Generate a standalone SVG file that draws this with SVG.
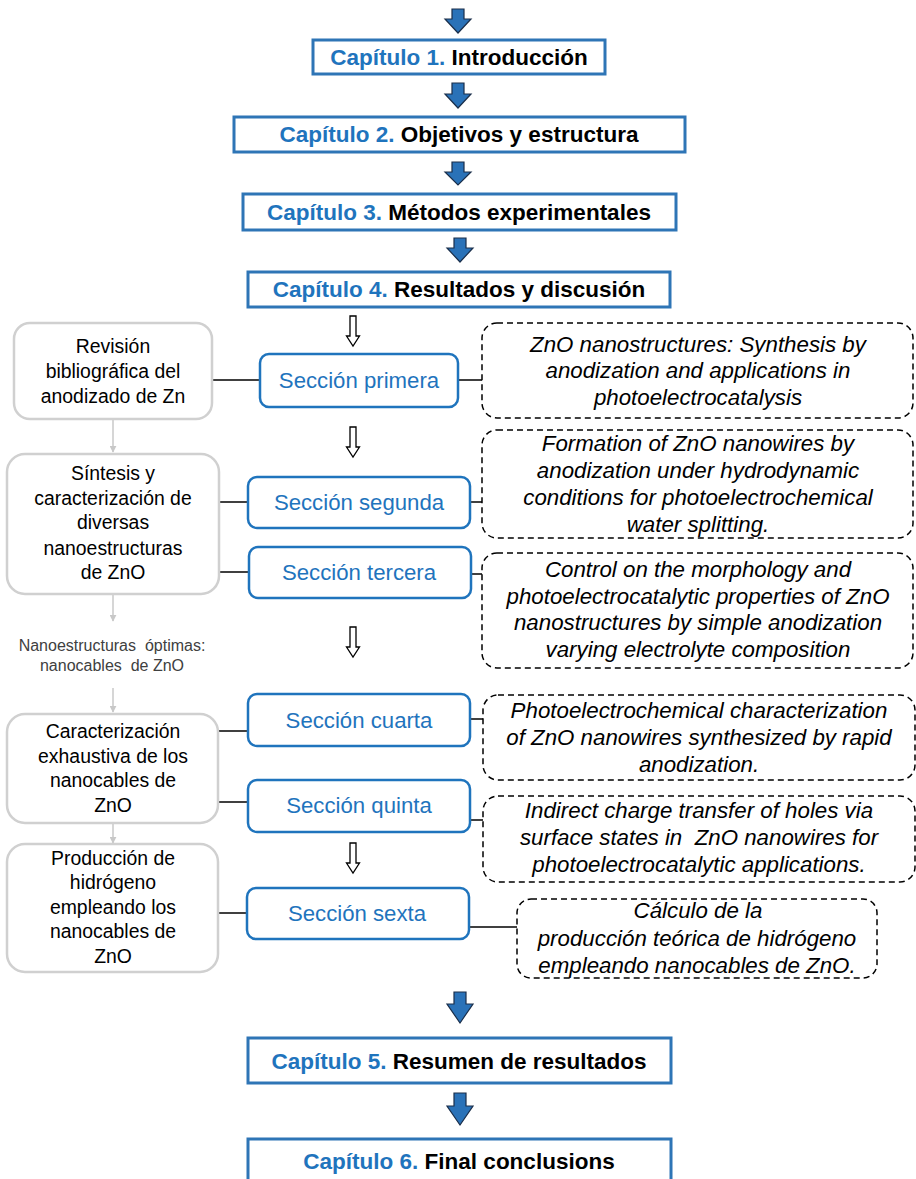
<svg xmlns="http://www.w3.org/2000/svg" width="916" height="1179" viewBox="0 0 916 1179">
<defs>
<style>
.chap{fill:#fff;stroke:#2E75B6;stroke-width:3}
.ct{font-family:"Liberation Sans",Arial,sans-serif;font-weight:bold;font-size:22.5px;text-anchor:middle;fill:#000}
.blue{fill:#1F74BD}
.sec{fill:#fff;stroke:#1F74BD;stroke-width:2.5}
.st{font-family:"Liberation Sans",Arial,sans-serif;font-size:22.2px;text-anchor:middle;fill:#1F74BD}
.gbox{fill:#fff;stroke:#D0D0D0;stroke-width:2.5}
.gt{font-family:"Liberation Sans",Arial,sans-serif;font-size:19.4px;text-anchor:middle;fill:#000}
.dbox{fill:#fff;stroke:#000;stroke-width:1.5;stroke-dasharray:6 4}
.dt{font-family:"Liberation Sans",Arial,sans-serif;font-style:italic;font-size:22.3px;text-anchor:middle;fill:#000}
.small{font-family:"Liberation Sans",Arial,sans-serif;font-size:16px;text-anchor:middle;fill:#404040}
.conn{stroke:#000;stroke-width:1.5;fill:none}
.gline{stroke:#C8C8C8;stroke-width:1.5;fill:none}
.barrow{fill:#2A72B8;stroke:#1A2E4A;stroke-width:1.2}
.harrow{fill:#fff;stroke:#000;stroke-width:1.3}
</style>
<marker id="ga" viewBox="0 0 10 10" refX="9" refY="5" markerWidth="7" markerHeight="7" orient="auto" markerUnits="userSpaceOnUse">
<path d="M0,0 L10,5 L0,10 Z" fill="#C8C8C8"/>
</marker>
</defs>

<g id="connectors">
<path class="barrow" d="M452,9 H464 V19 H471 L458,33 L445,19 H452 Z"/>
<path class="barrow" d="M452,83 H464 V94 H471 L458,108 L445,94 H452 Z"/>
<path class="barrow" d="M452,162 H464 V172 H471 L458,185 L445,172 H452 Z"/>
<path class="barrow" d="M454,238 H466 V248 H473 L460,262 L447,248 H454 Z"/>
<path class="barrow" d="M454,992 H466 V1004 H473 L460,1023 L447,1004 H454 Z"/>
<path class="barrow" d="M454,1093 H466 V1106 H473 L460,1125 L447,1106 H454 Z"/>
<path class="harrow" d="M350,316 H356 V336 H359.5 L353,346 L346.5,336 H350 Z"/>
<path class="harrow" d="M350,427 H356 V447 H359.5 L353,457 L346.5,447 H350 Z"/>
<path class="harrow" d="M350,627 H356 V647 H359.5 L353,657 L346.5,647 H350 Z"/>
<path class="harrow" d="M350,843 H356 V863 H359.5 L353,873 L346.5,863 H350 Z"/>
<line class="conn" x1="212" y1="380" x2="260" y2="380"/>
<line class="conn" x1="458" y1="380" x2="482" y2="380"/>
<line class="conn" x1="219" y1="502" x2="248" y2="502"/>
<line class="conn" x1="470" y1="502" x2="482" y2="502"/>
<line class="conn" x1="219" y1="572" x2="249" y2="572"/>
<line class="conn" x1="471" y1="574" x2="482" y2="574"/>
<line class="conn" x1="218" y1="731" x2="248" y2="731"/>
<line class="conn" x1="470" y1="719" x2="483" y2="719"/>
<line class="conn" x1="218" y1="802" x2="248" y2="802"/>
<line class="conn" x1="470" y1="820" x2="483" y2="820"/>
<line class="conn" x1="218" y1="913" x2="247" y2="913"/>
<line class="conn" x1="469" y1="927" x2="517" y2="927"/>
<line class="gline" x1="113" y1="420" x2="113" y2="452" marker-end="url(#ga)"/>
<line class="gline" x1="113" y1="595" x2="113" y2="621" marker-end="url(#ga)"/>
<line class="gline" x1="113" y1="688" x2="113" y2="712" marker-end="url(#ga)"/>
<line class="gline" x1="113" y1="824" x2="113" y2="843" marker-end="url(#ga)"/>
</g>

<g id="cap1">
<rect class="chap" x="313" y="40" width="292" height="34"/>
<text class="ct" x="459" y="65"><tspan class="blue">Capítulo 1.</tspan> Introducción</text>
</g>
<g id="cap2">
<rect class="chap" x="234" y="117" width="451" height="35"/>
<text class="ct" x="459" y="142"><tspan class="blue">Capítulo 2.</tspan> Objetivos y estructura</text>
</g>
<g id="cap3">
<rect class="chap" x="243" y="194" width="433" height="36"/>
<text class="ct" x="459" y="220"><tspan class="blue">Capítulo 3.</tspan> Métodos experimentales</text>
</g>
<g id="cap4">
<rect class="chap" x="248" y="272" width="422" height="35"/>
<text class="ct" x="459" y="297"><tspan class="blue">Capítulo 4.</tspan> Resultados y discusión</text>
</g>
<g id="cap5">
<rect class="chap" x="248" y="1038" width="423" height="45"/>
<text class="ct" x="459" y="1069"><tspan class="blue">Capítulo 5.</tspan> Resumen de resultados</text>
</g>
<g id="cap6">
<rect class="chap" x="248" y="1139" width="423" height="50"/>
<text class="ct" x="459" y="1169"><tspan class="blue">Capítulo 6.</tspan> Final conclusions</text>
</g>

<g id="sec1">
<rect class="sec" x="260" y="354" width="198" height="53" rx="9"/>
<text class="st" x="359" y="388">Sección primera</text>
</g>
<g id="sec2">
<rect class="sec" x="248" y="477" width="222" height="51" rx="9"/>
<text class="st" x="359" y="510">Sección segunda</text>
</g>
<g id="sec3">
<rect class="sec" x="249" y="547" width="222" height="51" rx="9"/>
<text class="st" x="359" y="580">Sección tercera</text>
</g>
<g id="sec4">
<rect class="sec" x="248" y="694" width="222" height="52" rx="9"/>
<text class="st" x="359" y="728">Sección cuarta</text>
</g>
<g id="sec5">
<rect class="sec" x="248" y="780" width="222" height="52" rx="9"/>
<text class="st" x="359" y="813">Sección quinta</text>
</g>
<g id="sec6">
<rect class="sec" x="247" y="888" width="222" height="51" rx="9"/>
<text class="st" x="357" y="921">Sección sexta</text>
</g>

<g id="left1">
<rect class="gbox" x="14" y="323" width="198" height="96" rx="16"/>
<text class="gt" x="113" y="353">Revisión</text>
<text class="gt" x="113" y="378">bibliográfica del</text>
<text class="gt" x="113" y="403">anodizado de Zn</text>
</g>
<g id="left2">
<rect class="gbox" x="7" y="454" width="212" height="140" rx="18"/>
<text class="gt" x="113" y="480">Síntesis y</text>
<text class="gt" x="113" y="505">caracterización de</text>
<text class="gt" x="113" y="529">diversas</text>
<text class="gt" x="113" y="555">nanoestructuras</text>
<text class="gt" x="113" y="579">de ZnO</text>
</g>
<g id="optimas">
<text class="small" x="112" y="651" xml:space="preserve">Nanoestructuras  óptimas:</text>
<text class="small" x="112" y="671" xml:space="preserve">nanocables  de ZnO</text>
</g>
<g id="left3">
<rect class="gbox" x="7" y="714" width="211" height="109" rx="18"/>
<text class="gt" x="113" y="738">Caracterización</text>
<text class="gt" x="113" y="763">exhaustiva de los</text>
<text class="gt" x="113" y="787">nanocables de</text>
<text class="gt" x="113" y="812">ZnO</text>
</g>
<g id="left4">
<rect class="gbox" x="7" y="844" width="211" height="128" rx="18"/>
<text class="gt" x="113" y="865">Producción de</text>
<text class="gt" x="113" y="889">hidrógeno</text>
<text class="gt" x="113" y="914">empleando los</text>
<text class="gt" x="113" y="938">nanocables de</text>
<text class="gt" x="113" y="963">ZnO</text>
</g>

<g id="paperA">
<rect class="dbox" x="482" y="323" width="431" height="95" rx="15"/>
<text class="dt" x="698" y="352">ZnO nanostructures: Synthesis by</text>
<text class="dt" x="698" y="378">anodization and applications in</text>
<text class="dt" x="698" y="405">photoelectrocatalysis</text>
</g>
<g id="paperB">
<rect class="dbox" x="482" y="430" width="431" height="108" rx="15"/>
<text class="dt" x="698" y="451">Formation of ZnO nanowires by</text>
<text class="dt" x="698" y="478">anodization under hydrodynamic</text>
<text class="dt" x="698" y="505">conditions for photoelectrochemical</text>
<text class="dt" x="698" y="532">water splitting.</text>
</g>
<g id="paperC">
<rect class="dbox" x="482" y="553" width="431" height="115" rx="15"/>
<text class="dt" x="698" y="577">Control on the morphology and</text>
<text class="dt" x="698" y="604">photoelectrocatalytic properties of ZnO</text>
<text class="dt" x="698" y="630">nanostructures by simple anodization</text>
<text class="dt" x="698" y="657">varying electrolyte composition</text>
</g>
<g id="paperD">
<rect class="dbox" x="483" y="695" width="432" height="85" rx="15"/>
<text class="dt" x="699" y="718">Photoelectrochemical characterization</text>
<text class="dt" x="699" y="745">of ZnO nanowires synthesized by rapid</text>
<text class="dt" x="699" y="772">anodization.</text>
</g>
<g id="paperE">
<rect class="dbox" x="483" y="796" width="432" height="86" rx="15"/>
<text class="dt" x="699" y="818">Indirect charge transfer of holes via</text>
<text class="dt" x="699" y="845" xml:space="preserve">surface states in  ZnO nanowires for</text>
<text class="dt" x="699" y="872">photoelectrocatalytic applications.</text>
</g>
<g id="paperF">
<rect class="dbox" x="517" y="899" width="360" height="79" rx="14"/>
<text class="dt" x="698" y="918">Cálculo de la</text>
<text class="dt" x="697" y="946">producción teórica de hidrógeno</text>
<text class="dt" x="697" y="973">empleando nanocables de ZnO.</text>
</g>
</svg>
